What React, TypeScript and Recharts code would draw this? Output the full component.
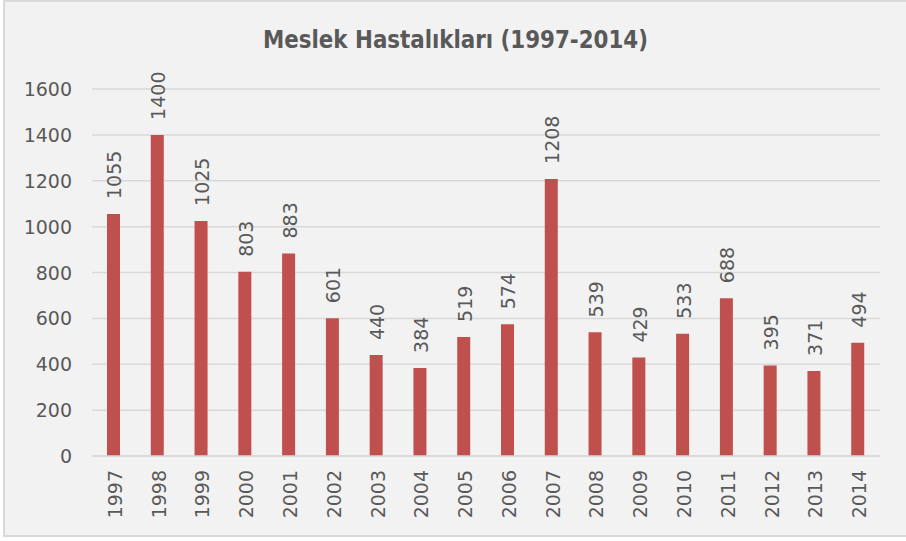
import React from 'react';
import { BarChart, Bar, XAxis, YAxis, CartesianGrid, LabelList } from 'recharts';

const years = ['1997','1998','1999','2000','2001','2002','2003','2004','2005','2006','2007','2008','2009','2010','2011','2012','2013','2014'];
const cases = [1055,1400,1025,803,883,601,440,384,519,574,1208,539,429,533,688,395,371,494];
const yTicks = [0,200,400,600,800,1000,1200,1400,1600];
const title = 'Meslek Hastalıkları (1997-2014)';

const data = years.map((y, i) => ({ year: y, value: cases[i] }));

const FONT = '"DejaVu Sans", sans-serif';
const TXT = '#595959';

const XTick = (props: any) => {
  const { x, payload } = props;
  const y = 470;
  return (
    <text x={x + 1} y={y} transform={`rotate(-90, ${x + 1}, ${y})`} textAnchor="end" dominantBaseline="central"
      fontFamily={FONT} fontSize={19} fill={TXT}>{payload.value}</text>
  );
};

const YTick = (props: any) => {
  const { y, payload } = props;
  return (
    <text x={72} y={y} textAnchor="end" dominantBaseline="central" fontFamily={FONT} fontSize={19} fill={TXT}>{payload.value}</text>
  );
};

const ValueLabel = (props: any) => {
  const { x, y, width, value } = props;
  const cx = x + width / 2 + 1;
  const cy = y - 15;
  return (
    <text x={cx} y={cy} transform={`rotate(-90, ${cx}, ${cy})`} textAnchor="start" dominantBaseline="central"
      fontFamily={FONT} fontSize={19} fill={TXT}>{value}</text>
  );
};

export default function App() {
  return (
    <div style={{ position: 'absolute', left: 0, top: 0, width: 906, height: 541, background: '#FFFFFF' }}>
      <div style={{ position: 'absolute', left: 3, top: 0, width: 903, height: 537, background: '#F2F2F2', borderLeft: '2px solid #D9D9D9', borderTop: '2px solid #D9D9D9', borderBottom: '2px solid #D9D9D9', boxSizing: 'border-box' }} />
      <svg style={{ position: 'absolute', left: 0, top: 0 }} width={906} height={80}>
        <text x={455.5} y={48} textAnchor="middle" fontFamily='"DejaVu Sans Condensed", "DejaVu Sans", sans-serif' fontSize={24} fontWeight="bold" fill={TXT}
          textLength={385} lengthAdjust="spacingAndGlyphs">{title}</text>
      </svg>
      <div style={{ position: 'absolute', left: 0, top: 0 }}>
        <BarChart width={906} height={541} data={data} margin={{ top: 89, right: 26, bottom: 0, left: 0 }}>
          <CartesianGrid vertical={false} stroke="#D9D9D9" strokeWidth={1.5} />
          <XAxis dataKey="year" tick={<XTick />} tickLine={false} axisLine={{ stroke: '#D9D9D9', strokeWidth: 1.5 }} interval={0} height={85} />
          <YAxis domain={[0, 1600]} ticks={yTicks} tick={<YTick />} tickLine={false} axisLine={false} width={92} />
          <Bar dataKey="value" fill="#C0504D" barSize={13} isAnimationActive={false}>
            <LabelList dataKey="value" content={<ValueLabel />} />
          </Bar>
        </BarChart>
      </div>
    </div>
  );
}
